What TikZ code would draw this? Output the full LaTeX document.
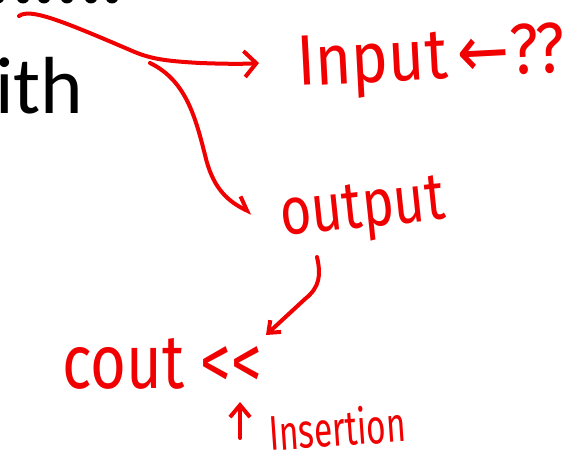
\documentclass[tikz,border=0pt]{standalone}
\usepackage{fontspec}
\setmainfont{Carlito}
\newfontfamily\handfont{Fira Sans}
\newfontfamily\symfont{DejaVu Sans}
\usetikzlibrary{arrows.meta}
\definecolor{ink}{RGB}{240,0,0}
\begin{document}
\begin{tikzpicture}[x=1pt,y=-1pt,
  inkline/.style={draw=ink, line width=4pt, line cap=round, line join=round},
  note/.style={text=ink, inner sep=0pt, anchor=base west, font=\handfont},
  slidetext/.style={inner sep=0pt, anchor=base west, font=\fontsize{81}{90}\selectfont},
]
\useasboundingbox (0,0) rectangle (585,457);

% slide text underneath the annotations
\begin{scope}
  \clip (0,0) rectangle (585,457);
  \foreach \cx in {-2,23,44,67,91,112} \fill (\cx,-3) circle (6.5pt);
\end{scope}
\node[slidetext] (ith) at (-5,114) {ith};

% handwritten notes
\node[note, rotate=3] (input) at (298,86) {\resizebox{268pt}{50pt}{Input\,{\symfont ←}??}};
\node[note, rotate=6] (output) at (282,236) {\resizebox{165pt}{44pt}{output}};
\node[note] (cout) at (62,388) {\resizebox{200pt}{50pt}{cout <<}};
\node[note, rotate=4] (insertion) at (270,451) {\resizebox{137pt}{38pt}{Insertion}};

% anchor points of the strokes
\coordinate (s1) at (19,16);
\coordinate (fork) at (150,63);
\coordinate (toinput) at (259,63);
\coordinate (tooutput) at (252,213);
\coordinate (fromoutput) at (317,257);
\coordinate (tocout) at (266,335);
\coordinate (insfoot) at (240,438);
\coordinate (instip) at (240,402);

% stroke to Input
\draw[inkline, -{Straight Barb[length=12pt,width=26pt]}]
  (s1) .. controls (30,8) and (60,20) .. (130,50)
       .. controls (150,59) and (165,61) .. (200,63)
       .. controls (225,64) and (245,64) .. (toinput);
% stroke to output
\draw[inkline, -{Straight Barb[harpoon,length=12pt,width=20pt]}]
  (fork) .. controls (185,80) and (195,115) .. (205,155)
         .. controls (212,185) and (225,200) .. (tooutput);
% stroke from output to cout <<
\draw[inkline, -{Straight Barb[length=10pt,width=16pt]}]
  (fromoutput) .. controls (321,275) and (320,287) .. (305,299) -- (tocout);
% arrow under the insertion operator
\draw[inkline, -{Straight Barb[length=12pt,width=20pt]}] (insfoot) -- (instip);
\end{tikzpicture}
\end{document}
